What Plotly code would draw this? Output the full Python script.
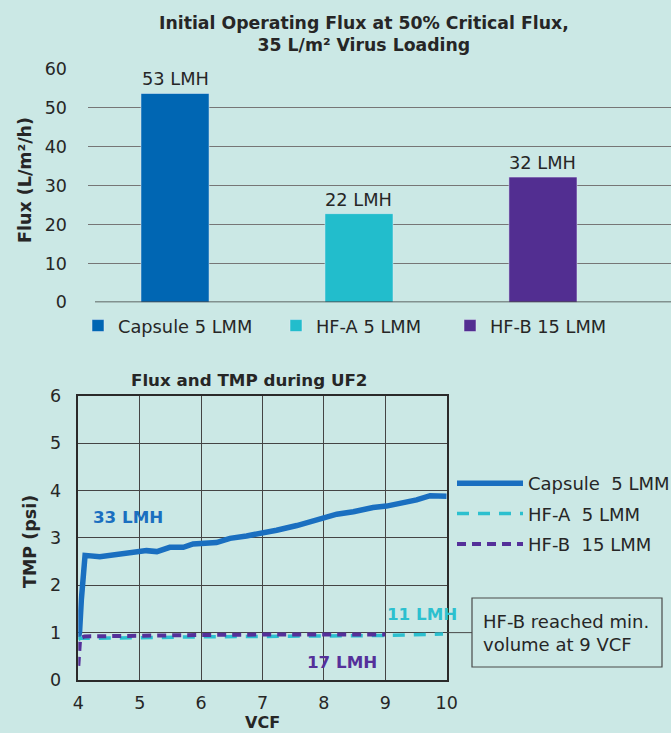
import plotly.graph_objects as go

W, H = 671, 733
FONT = "DejaVu Sans"
BG = "#cbe8e5"
TXT = "#262626"

# ---- Top chart data ----
bar_names = ["Capsule 5 LMM", "HF-A 5 LMM", "HF-B 15 LMM"]
bar_values = [53.7, 22.8, 32.2]
bar_labels = ["53 LMH", "22 LMH", "32 LMH"]
bar_colors = ["#0066b3", "#22bdcc", "#522e91"]
flux_ticks = [0, 10, 20, 30, 40, 50, 60]

# ---- Bottom chart data ----
cap_vcf = [4.00, 4.02, 4.05, 4.09, 4.11, 4.35, 4.57, 4.79, 4.87, 5.11, 5.28, 5.49, 5.71,
           5.87, 6.25, 6.47, 6.74, 6.96, 7.23, 7.56, 7.77, 7.99, 8.21, 8.48, 8.80, 9.02,
           9.29, 9.51, 9.73, 10.00]
cap_tmp = [0.90, 1.00, 1.70, 2.62, 2.63, 2.60, 2.64, 2.67, 2.71, 2.73, 2.71, 2.80, 2.80,
           2.87, 2.90, 2.99, 3.04, 3.09, 3.16, 3.26, 3.34, 3.43, 3.50, 3.55, 3.64, 3.67,
           3.73, 3.80, 3.89, 3.88]
hfa_vcf = [4.00, 4.03, 4.20, 5.00, 6.00, 7.00, 8.00, 9.00, 9.94]
hfa_tmp = [0.85, 0.88, 0.88, 0.90, 0.91, 0.92, 0.93, 0.94, 0.97]
hfb_vcf = [4.00, 4.01, 4.03, 4.10, 4.50, 5.00, 6.00, 7.00, 8.00, 9.00]
hfb_tmp = [0.30, 0.60, 0.88, 0.92, 0.93, 0.94, 0.95, 0.96, 0.97, 0.96]
vcf_ticks = [4, 5, 6, 7, 8, 9, 10]
tmp_ticks = [0, 1, 2, 3, 4, 5, 6]
line_names = ["Capsule  5 LMM", "HF-A  5 LMM", "HF-B  15 LMM"]
line_colors = ["#1a6fc0", "#2cc0cf", "#55309a"]
flux_notes = ["33 LMH", "11 LMH", "17 LMH"]


def px(x):
    return x / W


def py(y):
    return 1 - y / H


fig = go.Figure()

legend_ids = ["legend", "legend2", "legend3"]
for i, (n, v, c) in enumerate(zip(bar_names, bar_values, bar_colors)):
    fig.add_trace(go.Bar(x=[n], y=[v], name=n, marker_color=c, width=0.37,
                         xaxis="x", yaxis="y", legend=legend_ids[i], showlegend=True,
                         hoverinfo="skip"))

fig.add_trace(go.Scatter(x=cap_vcf, y=cap_tmp, mode="lines", name=line_names[0],
                         line=dict(color=line_colors[0], width=5.5), xaxis="x2", yaxis="y2",
                         legend="legend4", legendgroup="g1"))
fig.add_trace(go.Scatter(x=hfa_vcf, y=hfa_tmp, mode="lines", name=line_names[1],
                         line=dict(color=line_colors[1], width=3.5, dash="12px,9px"),
                         xaxis="x2", yaxis="y2", legend="legend4", legendgroup="g2"))
fig.add_trace(go.Scatter(x=hfb_vcf, y=hfb_tmp, mode="lines", name=line_names[2],
                         line=dict(color=line_colors[2], width=4, dash="9px,6px"),
                         xaxis="x2", yaxis="y2", legend="legend4", legendgroup="g3"))


def note(x, y, text, size, color=TXT, angle=0, xanchor="center", align="center",
         xref="paper", yref="paper"):
    return dict(x=x, y=y, xref=xref, yref=yref, text=text, showarrow=False,
                xanchor=xanchor, yanchor="middle", textangle=angle, align=align,
                font=dict(family=FONT, size=size, color=color))


ann = []
# bar value labels
for n, v, lab in zip(bar_names, bar_values, bar_labels):
    ann.append(dict(x=n, y=v, xref="x", yref="y", text=lab, showarrow=False,
                    xanchor="center", yanchor="bottom", yshift=2,
                    font=dict(family=FONT, size=17.8, color=TXT)))
# titles
ann.append(note(px(364.5), py(34),
                "<b>Initial Operating Flux at 50% Critical Flux,<br>35 L/m² Virus Loading</b>", 17.3))
ann.append(note(px(25), py(180), "<b>Flux (L/m²/h)</b>", 17.5, angle=-90))
ann.append(note(px(249), py(380), "<b>Flux and TMP during UF2</b>", 16.7))
ann.append(note(px(30), py(542), "<b>TMP (psi)</b>", 17.5, angle=-90))
ann.append(note(px(262), py(722), "<b>VCF</b>", 16))
# flux notes in bottom chart
ann.append(note(4.2, 3.45, "<b>" + flux_notes[0] + "</b>", 16.7, line_colors[0],
                xanchor="left", xref="x2", yref="y2"))
ann.append(note(9.0, 1.4, "<b>" + flux_notes[1] + "</b>", 16.7, line_colors[1],
                xanchor="left", xref="x2", yref="y2"))
ann.append(note(7.7, 0.39, "<b>" + flux_notes[2] + "</b>", 16.7, line_colors[2],
                xanchor="left", xref="x2", yref="y2"))
# callout box text
ann.append(note(px(481), py(633), "HF-B reached min.<br>volume at 9 VCF", 18,
                xanchor="left", align="left"))

shapes = [
    # zero line of top chart
    dict(type="line", xref="paper", yref="y", x0=px(95), x1=1, y0=0, y1=0,
         line=dict(color="#3a3a3a", width=1.5)),
    # callout box
    dict(type="rect", xref="paper", yref="paper", x0=px(472), x1=px(662), y0=py(598), y1=py(667),
         line=dict(color="#4a4a4a", width=1.2)),
    dict(type="line", xref="paper", yref="y2", x0=px(446.7), x1=px(472), y0=1, y1=1,
         line=dict(color="#4a4a4a", width=1)),
]

leg_font = dict(family=FONT, size=17.8, color=TXT)
leg_common = dict(orientation="h", bgcolor="rgba(0,0,0,0)", font=leg_font,
                  xanchor="left", yanchor="middle", y=py(326), itemclick=False)

fig.update_layout(
    width=W, height=H,
    margin=dict(l=0, r=0, t=0, b=0, pad=0, autoexpand=False),
    paper_bgcolor=BG, plot_bgcolor=BG,
    font=dict(family=FONT, color=TXT),
    xaxis=dict(domain=[px(88), 1], range=[-0.473, 2.696], showticklabels=False, showgrid=False,
               zeroline=False, showline=False, ticks=""),
    yaxis=dict(domain=[py(302.3), py(69)], range=[0, 60], tickvals=flux_ticks, showgrid=True,
               gridcolor="#767676", gridwidth=1.3, zeroline=False, showline=False,
               tickfont=dict(family=FONT, size=17.5, color=TXT), ticklabelstandoff=20),
    xaxis2=dict(domain=[px(78.3), px(446.7)], range=[4, 10], tickvals=vcf_ticks, anchor="y2",
                showgrid=True, gridcolor="#444444", gridwidth=1, zeroline=False,
                showline=True, linecolor="#2a2a2a", linewidth=1.5, mirror=True,
                tickfont=dict(family=FONT, size=17.5, color=TXT), ticklabelstandoff=6),
    yaxis2=dict(domain=[py(680), py(395.7)], range=[0, 6], tickvals=tmp_ticks, anchor="x2",
                showgrid=True, gridcolor="#444444", gridwidth=1, zeroline=False,
                showline=True, linecolor="#2a2a2a", linewidth=1.5, mirror=True,
                tickfont=dict(family=FONT, size=17.5, color=TXT), ticklabelstandoff=12),
    legend=dict(x=px(78), **leg_common),
    legend2=dict(x=px(276), **leg_common),
    legend3=dict(x=px(450), **leg_common),
    legend4=dict(x=px(452), y=py(514), xanchor="left", yanchor="middle", orientation="v",
                 bgcolor="rgba(0,0,0,0)", font=dict(family=FONT, size=18, color=TXT),
                 itemwidth=66, tracegroupgap=4, itemclick=False),
    annotations=ann,
    shapes=shapes,
)

fig.write_html("out.html", config={"displayModeBar": False},
               post_script="document.body.style.margin='0';document.body.style.overflow='hidden';")
